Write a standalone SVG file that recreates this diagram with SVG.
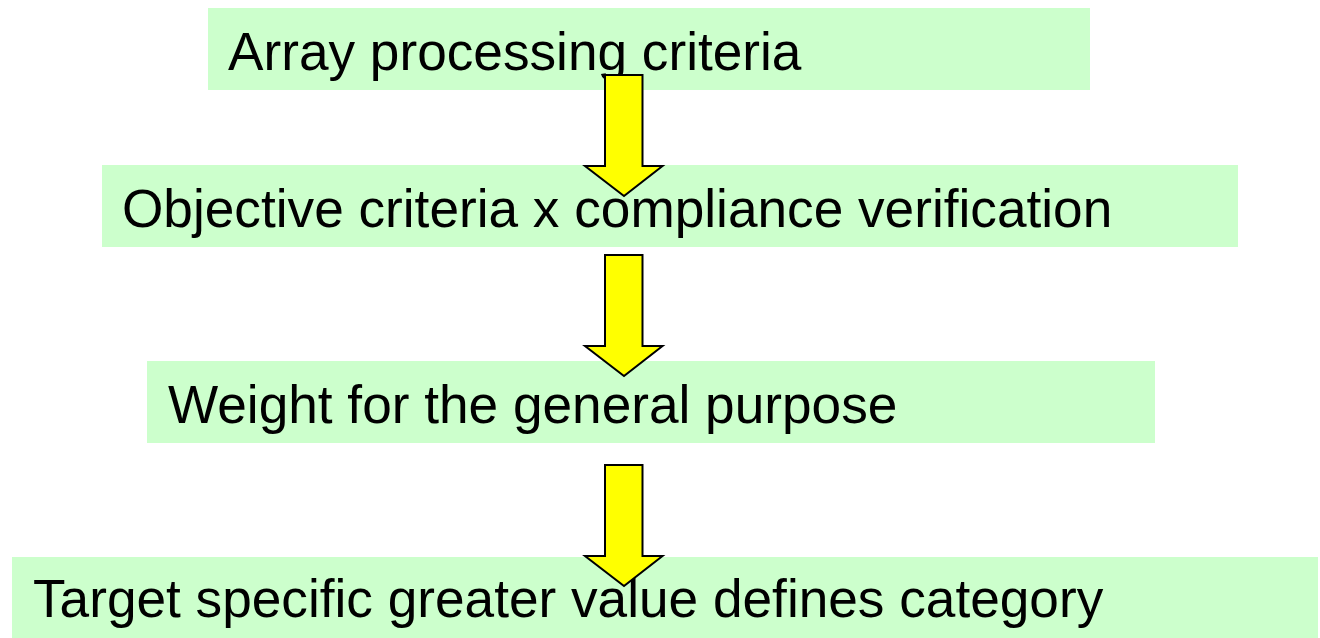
<svg xmlns="http://www.w3.org/2000/svg" width="1320" height="638" viewBox="0 0 1320 638">
<style>
.box{fill:#ccffcc;stroke:none}
.lbl{font-family:"Liberation Sans",Arial,sans-serif;font-size:53.2px;fill:#000}
.arr{fill:#ffff00;stroke:#000;stroke-width:2;stroke-linejoin:miter}
</style>
<rect width="1320" height="638" fill="#fff"/>
<g id="node1"><rect class="box" x="208" y="8" width="882" height="82"/><text class="lbl" x="228" y="70">Array processing criteria</text></g>
<g id="node2"><rect class="box" x="102" y="165" width="1136" height="82"/><text class="lbl" x="122" y="227">Objective criteria x compliance verification</text></g>
<g id="node3"><rect class="box" x="147" y="361" width="1008" height="82"/><text class="lbl" x="168" y="423">Weight for the general purpose</text></g>
<g id="node4"><rect class="box" x="12" y="557" width="1306" height="81"/><text class="lbl" x="33" y="617">Target specific greater value defines category</text></g>
<g id="connectors">
<path class="arr" d="M605,75 H642.5 V166 H662.5 L624,196 L585,166 H605 Z"/>
<path class="arr" d="M605,255 H642.5 V346 H662.5 L624,376 L585,346 H605 Z"/>
<path class="arr" d="M605,465 H642.5 V556 H662.5 L624,586 L585,556 H605 Z"/>
</g>
</svg>
